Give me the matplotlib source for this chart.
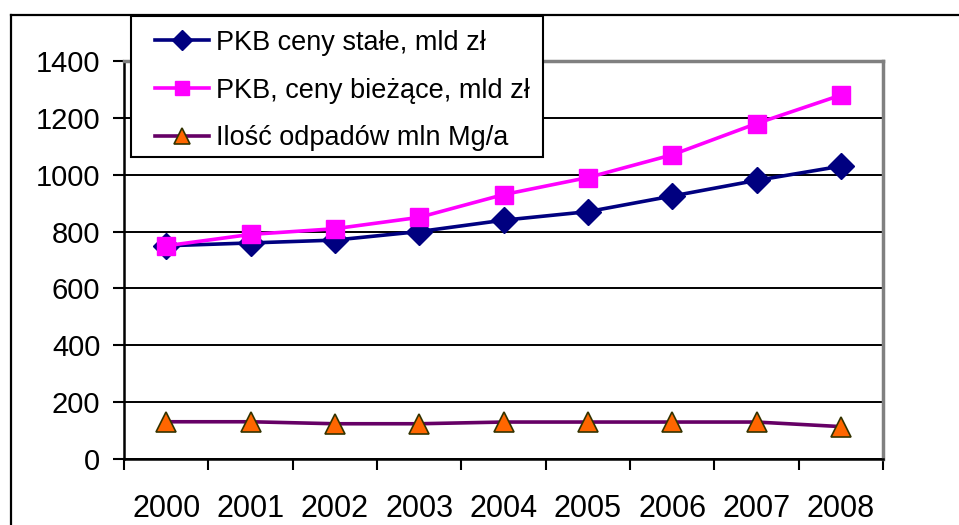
import matplotlib
matplotlib.use("Agg")
import matplotlib.pyplot as plt
from matplotlib.lines import Line2D
from matplotlib.patches import Rectangle

plt.rcParams['font.family'] = ['Liberation Sans', 'DejaVu Sans']

years = ['2000', '2001', '2002', '2003', '2004', '2005', '2006', '2007', '2008']
pkb_stale = [750, 760, 770, 800, 840, 870, 925, 980, 1030]
pkb_biezace = [750, 790, 810, 850, 930, 990, 1070, 1180, 1280]
odpady = [131, 131, 124, 124, 130, 130, 130, 130, 114]

labels = ['PKB ceny stałe, mld zł', 'PKB, ceny bieżące, mld zł', 'Ilość odpadów mln Mg/a']

W, H = 959, 525
fig = plt.figure(figsize=(W / 100, H / 100), dpi=100)
ax = fig.add_axes([124 / W, 1 - 459 / H, (883 - 124) / W, (459 - 61) / H])

x = range(len(years))
l1, = ax.plot(x, pkb_stale, color='#000080', lw=2.6, marker='D', ms=13,
              markerfacecolor='#000080', markeredgecolor='#000080')
l2, = ax.plot(x, pkb_biezace, color='#FF00FF', lw=2.6, marker='s', ms=13,
              markerfacecolor='#FF00FF', markeredgecolor='#FF00FF')
l3, = ax.plot(x, odpady, color='#660066', lw=2.6, marker='^', ms=15,
              markerfacecolor='#FF6600', markeredgecolor='#333300', markeredgewidth=1.2)

ax.set_xlim(-0.5, len(years) - 0.5)
ax.set_ylim(0, 1400)
ax.set_yticks(range(0, 1401, 200))
ax.yaxis.grid(True, color='black', lw=1.4)
ax.set_axisbelow(True)

ax.set_xticks(list(x))
ax.set_xticklabels(years, fontsize=22)
ax.set_xticks([i - 0.5 for i in range(len(years) + 1)], minor=True)
ax.tick_params(axis='x', which='major', length=0, pad=25)
ax.tick_params(axis='x', which='minor', length=8, width=1.5, color='black')
ax.tick_params(axis='y', labelsize=21, length=8, width=1.5, pad=9)

for s in ['top', 'right']:
    ax.spines[s].set_color('#808080')
    ax.spines[s].set_linewidth(2.5)
for s in ['left', 'bottom']:
    ax.spines[s].set_color('black')
    ax.spines[s].set_linewidth(1.8)

# outer frame of the chart
fig.add_artist(Line2D([11 / W, 11 / W], [0, 1 - 15 / H], color='black', lw=1.6))
fig.add_artist(Line2D([11 / W, 1], [1 - 15 / H, 1 - 15 / H], color='black', lw=1.6))

# legend box drawn by hand, legend itself frameless
fig.add_artist(Rectangle((131 / W, 1 - 157 / H), (543 - 131) / W, (157 - 16) / H,
                         transform=fig.transFigure, facecolor='white',
                         edgecolor='black', lw=1.5, zorder=3))
leg = fig.legend([l1, l2, l3], labels, loc='upper left',
                 bbox_to_anchor=(144 / W, 1 - 19 / H), borderaxespad=0,
                 fontsize=19.5, frameon=False, handlelength=2.0, handletextpad=0.26,
                 labelspacing=0.8, borderpad=0.4, markerscale=0.75)
leg.set_zorder(4)

fig.savefig('out.png', dpi=100)
